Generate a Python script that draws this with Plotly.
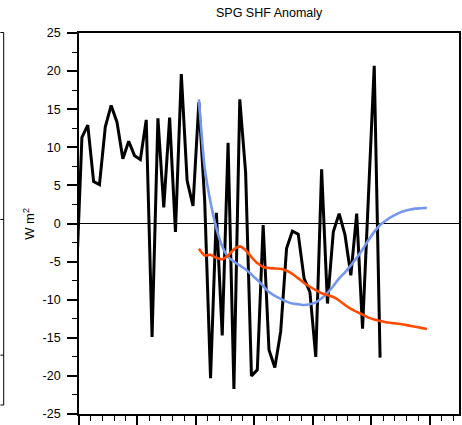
import plotly.graph_objects as go

# Annual SHF anomaly (black), 1949..2001 (first value lies left of the axis start)
years_obs = list(range(1949, 2002))
shf_obs = [-8.2, 11.3, 12.9, 5.5, 5.1, 12.7, 15.5, 13.3, 8.5, 10.8,
           8.9, 8.4, 13.6, -14.9, 13.8, 2.1, 13.9, -1.1, 19.6, 5.6,
           2.3, 15.9, 3.0, -20.3, 1.4, -14.7, 10.6, -21.7, 16.3, 6.7,
           -20.0, -19.2, -0.2, -16.6, -18.9, -14.2, -3.3, -1.0, -1.4, -7.2,
           -9.0, -17.5, 7.1, -10.5, -1.1, 1.3, -1.5, -6.8, 1.3, -13.8,
           3.4, 20.7, -17.6]

# Smooth curves, 1970..2009
years_fc = list(range(1970, 2010))
shf_blue = [16.3, 7.3, 2.8, -0.6, -3.0, -4.4, -5.0, -5.5, -6.0, -6.7,
            -7.4, -8.2, -9.0, -9.5, -9.9, -10.25, -10.5, -10.6, -10.7, -10.6,
            -10.35, -9.8, -9.1, -8.2, -7.2, -6.4, -5.5, -4.5, -3.4, -2.2,
            -1.1, -0.2, 0.4, 0.9, 1.3, 1.6, 1.8, 1.95, 2.0, 2.05]
shf_orange = [-3.3, -4.2, -4.1, -4.5, -4.7, -4.2, -3.4, -3.0, -3.5, -4.4,
              -5.2, -5.7, -5.85, -5.9, -5.95, -6.2, -6.6, -7.2, -7.8, -8.3,
              -8.75, -9.15, -9.4, -9.65, -10.1, -10.7, -11.2, -11.6, -11.95, -12.35,
              -12.6, -12.8, -12.95, -13.05, -13.15, -13.25, -13.4, -13.55, -13.7, -13.85]

y_ticks = [-25, -20, -15, -10, -5, 0, 5, 10, 15, 20, 25]

FONT = "Liberation Sans, Arial, Helvetica, sans-serif"

fig = go.Figure()
fig.add_trace(go.Scatter(x=[y + 0.5 for y in years_obs], y=shf_obs, mode="lines",
                         line=dict(color="black", width=3), showlegend=False))
fig.add_trace(go.Scatter(x=[y + 0.5 for y in years_fc], y=shf_blue, mode="lines",
                         line=dict(color="#7598EE", width=2.6, shape="spline", smoothing=0.6),
                         showlegend=False))
fig.add_trace(go.Scatter(x=[y + 0.5 for y in years_fc], y=shf_orange, mode="lines",
                         line=dict(color="#FF4A00", width=2.6, shape="spline", smoothing=0.6),
                         showlegend=False))

fig.update_layout(
    width=462, height=425,
    margin=dict(l=79, r=1, t=33, b=10),
    paper_bgcolor="white", plot_bgcolor="white",
    font=dict(family=FONT, color="black", size=11),
    xaxis=dict(range=[1950, 2015], tick0=1950, dtick=10, ticks="outside", ticklen=10,
               tickwidth=1.5, tickcolor="black", showticklabels=False,
               showline=True, linecolor="black", linewidth=1.6, mirror=True,
               showgrid=False, zeroline=False,
               minor=dict(dtick=2, tick0=1950, ticks="outside", ticklen=5,
                          tickwidth=1, tickcolor="black", showgrid=False)),
    yaxis=dict(range=[-25, 25], tickmode="array", tickvals=y_ticks,
               ticktext=[str(v) for v in y_ticks],
               ticks="outside", ticklen=10, tickwidth=1.5, tickcolor="black",
               tickfont=dict(size=12.5), ticklabelstandoff=4,
               showline=True, linecolor="black", linewidth=1.6, mirror=True,
               showgrid=False, zeroline=True, zerolinecolor="black", zerolinewidth=1,
               minor=dict(dtick=2.5, ticks="outside", ticklen=5, tickwidth=1,
                          tickcolor="black", showgrid=False)),
    annotations=[
        dict(text="SPG SHF Anomaly", xref="paper", yref="paper", x=0.5, y=1 + 20 / 382,
             xanchor="center", yanchor="middle", showarrow=False, font=dict(size=12.5)),
        dict(text="W m<sup>2</sup>", xref="paper", yref="paper", x=(28 - 79) / 382, y=0.5,
             xanchor="center", yanchor="middle", textangle=-90, showarrow=False,
             font=dict(size=13)),
    ],
)

# remnants of the neighbouring panel at the far left
px = lambda p: (p - 79) / 382
py = lambda p: (415 - p) / 382
shapes = [
    dict(type="line", xref="paper", yref="paper", x0=px(3.3), x1=px(3.3), y0=py(32.5), y1=py(406),
         line=dict(color="black", width=1)),
    dict(type="line", xref="paper", yref="paper", x0=px(0), x1=px(3.3), y0=py(32.5), y1=py(32.5),
         line=dict(color="black", width=1)),
    dict(type="line", xref="paper", yref="paper", x0=px(0), x1=px(3.3), y0=py(406), y1=py(406),
         line=dict(color="black", width=1)),
    dict(type="line", xref="paper", yref="paper", x0=px(0), x1=px(3.3), y0=py(356), y1=py(356),
         line=dict(color="black", width=1)),
    dict(type="line", xref="paper", yref="paper", x0=px(0), x1=px(3.3), y0=py(220), y1=py(220),
         line=dict(color="black", width=1)),
]
fig.update_layout(shapes=shapes)

fig.write_html("out.html")
